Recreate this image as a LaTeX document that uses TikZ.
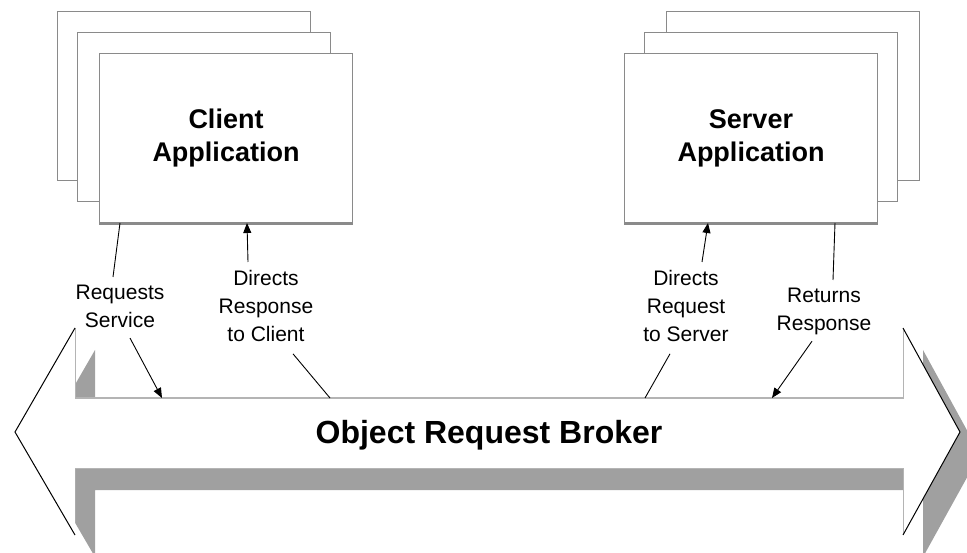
\documentclass[tikz,border=0pt]{standalone}
\usepackage{fontspec}
\setmainfont{Liberation Sans}
\usetikzlibrary{arrows.meta,calc}
\definecolor{boxline}{HTML}{8A8A8A}
\definecolor{shadowgray}{HTML}{A0A0A0}
\definecolor{edgegray}{HTML}{B4B4B4}
\tikzset{
  appbox/.style={draw=boxline, line width=1pt, fill=white, minimum width=253pt,
    minimum height=169pt, anchor=north west, inner sep=0pt, align=center,
    font=\bfseries\fontsize{27}{33}\selectfont},
  lbl/.style={font=\fontsize{21}{28}\selectfont, align=center, inner sep=2pt, anchor=north},
  conn/.style={draw=black, line width=0.9pt},
  tipped/.style={-{Triangle[length=10pt,width=8pt]}},
}
\begin{document}
\begin{tikzpicture}[x=1pt,y=-1pt]
\clip (0,0) rectangle (967,553);
% ---- Object Request Broker double arrow: shadow then body
\fill[shadowgray] (95,420) -- (95,350) -- (35,454) -- (95,557) -- (95,490) -- (923,490)
  -- (923,557) -- (980,454) -- (923,350) -- (923,420) -- cycle;
\fill[white] (75,398) -- (75,328) -- (15,432) -- (75,535) -- (75,468) -- (903,468)
  -- (903,535) -- (960,432) -- (903,328) -- (903,398) -- cycle;
\draw[edgegray, line width=1pt] (75,328) -- (75,398) -- (903,398) -- (903,328);
\draw[edgegray, line width=0.8pt] (75,468) -- (903,468) -- (903,535);
\draw[black, line width=1pt] (75,328) -- (15,432) -- (75,535);
\draw[black, line width=1pt] (903,328) -- (960,432) -- (903,535);
\node[font=\bfseries\fontsize{32}{38}\selectfont, anchor=base, inner sep=0pt] (orb) at (489,443) {Object Request Broker};
\coordinate (s1) at (162,398);
\coordinate (s2) at (330,398);
\coordinate (s3) at (645,398);
\coordinate (s4) at (772,398);
% ---- Client application stack
\node[appbox] (cback) at (57,11) {};
\node[appbox] (cmid) at (77,32) {};
\node[appbox] (cfront) at (99,53) {Client\\Application};
\draw[boxline, line width=2.5pt] ([yshift=-1pt]cfront.south west) -- ([yshift=-1pt]cfront.south east);
% ---- Server application stack
\node[appbox] (sback) at (666,11) {};
\node[appbox] (smid) at (644,32) {};
\node[appbox] (sfront) at (624,53) {Server\\Application};
\draw[boxline, line width=2.5pt] ([yshift=-1pt]sfront.south west) -- ([yshift=-1pt]sfront.south east);
% ---- labels
\node[lbl] (req) at (120,283) {Requests\\Service};
\node[lbl] (dresp) at (266,268) {Directs\\Response\\to Client};
\node[lbl] (dreq) at (686,268) {Directs\\Request\\to Server};
\node[lbl] (ret) at (824,286) {Returns\\Response};
% ---- connectors
\draw[conn] ($(cfront.south west)+(21,0)$) -- ($(req.north)+(-7,-6)$);
\draw[conn,tipped] ($(req.south)+(10,8)$) -- (s1);
\draw[conn] (s2) -- ($(dresp.south)+(27,10)$);
\draw[conn,tipped] ($(dresp.north)+(-18,-6)$) -- ($(cfront.south west)+(148,0)$);
\draw[conn] (s3) -- ($(dreq.south)+(-16,10)$);
\draw[conn,tipped] ($(dreq.north)+(16,-6)$) -- ($(sfront.south west)+(84,0)$);
\draw[conn] ($(sfront.south west)+(211,0)$) -- ($(ret.north)+(9,-6)$);
\draw[conn,tipped] ($(ret.south)+(-12,4)$) -- (s4);
\end{tikzpicture}
\end{document}
